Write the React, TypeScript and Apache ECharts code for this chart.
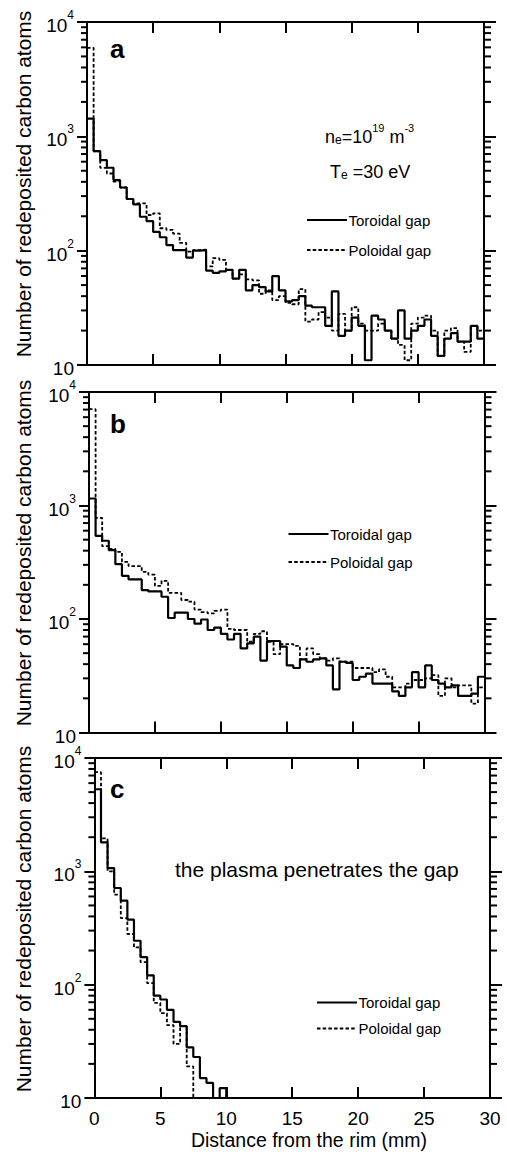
import React, { useEffect, useRef } from "react";
import * as echarts from "echarts";

const FONT = "'Liberation Sans', Arial, Helvetica, sans-serif";

// bin edges (mm) of the 0.5 mm histogram bins
const BIN_EDGES = [
  0, 0.5, 1, 1.5, 2, 2.5, 3, 3.5, 4, 4.5, 5, 5.5, 6, 6.5, 7, 7.5, 8, 8.5, 9, 9.5,
  10, 10.5, 11, 11.5, 12, 12.5, 13, 13.5, 14, 14.5, 15, 15.5, 16, 16.5, 17, 17.5, 18, 18.5, 19, 19.5,
  20, 20.5, 21, 21.5, 22, 22.5, 23, 23.5, 24, 24.5, 25, 25.5, 26, 26.5, 27, 27.5, 28, 28.5, 29, 29.5, 30,
];

const SERIES_NAMES = ["Toroidal gap", "Poloidal gap"];
const PANEL_LETTERS = ["a", "b", "c"];
const Y_TITLE = "Number of redeposited carbon atoms";
const X_TITLE = "Distance from the rim (mm)";
const NOTE_C = "the plasma penetrates the gap";

// panel a
const A_TOROIDAL = [
  1430, 743, 620, 531, 414, 357, 283, 254, 198, 181, 146, 131, 112, 101, 101, 87, 100, 101, 67, 64,
  66, 68, 57, 68, 45, 50, 48, 44, 60, 45, 36, 37, 40, 33, 32, 32, 22, 44, 18, 20,
  26, 22, 11, 27, 25, 20, 17, 30, 17, 20, 22, 25, 18, 12, 17, 19, 16, 16, 22, 17,
];
const A_POLOIDAL = [
  5940, 740, 530, 473, 401, 357, 283, 259, 259, 205, 212, 157, 152, 141, 117, 98, 101, 102, 73, 86,
  83, 68, 57, 62, 56, 55, 42, 45, 37, 40, 35, 34, 46, 24, 25, 29, 26, 20, 28, 20,
  32, 23, 20, 20, 23, 20, 17, 15, 11, 23, 26, 27, 20, 12, 20, 21, 16, 13, 22, 20,
];
// panel b
const B_TOROIDAL = [
  1153, 541, 489, 404, 304, 240, 223, 223, 180, 175, 175, 157, 102, 114, 114, 100, 91, 99, 80, 84,
  74, 66, 74, 55, 61, 70, 43, 64, 64, 57, 39, 37, 44, 42, 44, 45, 39, 24, 42, 41,
  29, 31, 33, 27, 27, 27, 23, 21, 25, 34, 25, 39, 29, 27, 25, 26, 21, 21, 22, 31,
];
const B_POLOIDAL = [
  7060, 778, 438, 415, 391, 319, 292, 292, 260, 246, 196, 217, 170, 170, 147, 142, 121, 115, 112, 118,
  121, 82, 80, 80, 63, 74, 78, 63, 49, 60, 60, 58, 44, 55, 49, 45, 43, 45, 42, 42,
  37, 37, 37, 34, 36, 31, 25, 25, 27, 29, 29, 30, 32, 21, 30, 25, 26, 26, 18, 25,
];
// panel c
const C_TOROIDAL = [
  5300, 1803, 1069, 713, 551, 375, 244, 175, 121, 80, 74, 60, 47, 43, 28, 23, 15, 13.6, 0, 12.2,
  0, 0, 0, 0, 0, 0, 0, 0, 0, 0, 0, 0, 0, 0, 0, 0, 0, 0, 0, 0,
  0, 0, 0, 0, 0, 0, 0, 0, 0, 0, 0, 0, 0, 0, 0, 0, 0, 0, 0, 0,
];
const C_POLOIDAL = [
  7500, 1950, 1000, 622, 387, 280, 213, 158, 103, 69, 56, 44, 30, 43, 19, 0, 0, 0, 0, 0,
  0, 0, 0, 0, 0, 0, 0, 0, 0, 0, 0, 0, 0, 0, 0, 0, 0, 0, 0, 0,
  0, 0, 0, 0, 0, 0, 0, 0, 0, 0, 0, 0, 0, 0, 0, 0, 0, 0, 0, 0,
];

const MINOR_TICKS = [
  20, 30, 40, 50, 60, 70, 80, 90, 200, 300, 400, 500, 600, 700, 800, 900,
  2000, 3000, 4000, 5000, 6000, 7000, 8000, 9000,
];

const PANEL_DATA = [
  [A_TOROIDAL, A_POLOIDAL],
  [B_TOROIDAL, B_POLOIDAL],
  [C_TOROIDAL, C_POLOIDAL],
];

const FLOOR = 1; // empty bins drawn below the axis minimum (clipped)

function stepData(values: number[]) {
  const d = values.map((v, i) => [BIN_EDGES[i], v > 0 ? v : FLOOR]);
  const last = values[values.length - 1];
  d.push([BIN_EDGES[values.length], last > 0 ? last : FLOOR]);
  return d;
}

export default function App() {
  const ref = useRef<HTMLDivElement>(null);

  useEffect(() => {
    if (!ref.current) return;
    const chart = echarts.init(ref.current, null, { renderer: "svg" });

    const grids = [
      { left: 87, top: 22, width: 397, height: 343 },
      { left: 89, top: 392, width: 395.5, height: 340.5 },
      { left: 94.4, top: 758, width: 395.6, height: 340 },
    ];
    const letterPos = [
      [110, 49],
      [110, 424],
      [110, 789],
    ];
    const yTitleY = [184, 553, 919];
    const legendPos = [
      { x1: 307, x2: 347, y1: 220, y2: 250 },
      { x1: 288.5, x2: 328.5, y1: 534, y2: 562 },
      { x1: 317, x2: 357, y1: 1002.5, y2: 1028.5 },
    ];

    const black = "#000";
    const axisLineStyle = { color: black, width: 2 };
    const xAxes: any[] = [];
    const yAxes: any[] = [];
    const series: any[] = [];
    const elements: any[] = [];

    const yRich = {
      b: { fontSize: 19, lineHeight: 26, verticalAlign: "bottom", fontFamily: FONT, color: black },
      s: { fontSize: 12, lineHeight: 12, verticalAlign: "top", fontFamily: FONT, color: black },
    };
    const yFormatter = (v: number) => {
      const e = Math.round(Math.log10(v));
      return e === 1 ? "{b|10}" : "{b|10}{s|" + e + "}";
    };

    grids.forEach((g, i) => {
      (g as any).outerBoundsMode = "none";
      const base = {
        type: "value",
        gridIndex: i,
        min: 0,
        max: 30,
        interval: 5,
        axisLine: { show: true, onZero: false, lineStyle: axisLineStyle },
        axisTick: { show: true, inside: true, length: 11, lineStyle: axisLineStyle },
        splitLine: { show: false },
      };
      xAxes.push({
        ...base,
        position: "bottom",
        axisLabel: { show: i === 2, color: black, fontSize: 19, margin: 11, fontFamily: FONT },
      });
      xAxes.push({ ...base, position: "top", axisLabel: { show: false } });

      const ybase = {
        type: "log",
        logBase: 10,
        gridIndex: i,
        min: 10,
        max: 10000,
        axisLine: { show: true, onZero: false, lineStyle: axisLineStyle },
        splitLine: { show: false },
        minorTick: { show: false },
      };
      yAxes.push({
        ...ybase,
        position: "left",
        axisTick: { show: true, inside: false, length: 10, lineStyle: axisLineStyle },
        axisLabel: { show: true, margin: 13, formatter: yFormatter, rich: yRich },
      });
      yAxes.push({
        ...ybase,
        position: "right",
        axisTick: { show: true, inside: false, length: 12, lineStyle: axisLineStyle },
        axisLabel: { show: false },
      });

      const [tor, pol] = PANEL_DATA[i];
      series.push({
        type: "line",
        name: SERIES_NAMES[1],
        xAxisIndex: 2 * i,
        yAxisIndex: 2 * i,
        data: stepData(pol),
        step: "end",
        symbol: "none",
        showSymbol: false,
        clip: true,
        silent: true,
        z: 2,
        lineStyle: { color: black, width: 1.8, type: [3.5, 2.2] },
      });
      series.push({
        type: "line",
        name: SERIES_NAMES[0],
        xAxisIndex: 2 * i,
        yAxisIndex: 2 * i,
        data: stepData(tor),
        step: "end",
        symbol: "none",
        showSymbol: false,
        clip: true,
        silent: true,
        z: 3,
        lineStyle: { color: black, width: 2.2, type: "solid" },
      });
      series.push({
        type: "custom",
        xAxisIndex: 2 * i,
        yAxisIndex: 2 * i,
        coordinateSystem: "cartesian2d",
        silent: true,
        clip: false,
        data: MINOR_TICKS.map((v) => [0, v]),
        renderItem: (params: any, api: any) => {
          const y = api.coord([0, api.value(1)])[1];
          const cs = params.coordSys;
          return {
            type: "group",
            children: [
              {
                type: "line",
                shape: { x1: cs.x - 6, y1: y, x2: cs.x, y2: y },
                style: { stroke: black, lineWidth: 2 },
              },
              {
                type: "line",
                shape: { x1: cs.x + cs.width, y1: y, x2: cs.x + cs.width + 7, y2: y },
                style: { stroke: black, lineWidth: 2 },
              },
            ],
          };
        },
      });

      // y axis title
      elements.push({
        type: "text",
        x: 23.5,
        y: yTitleY[i],
        rotation: Math.PI / 2,
        style: {
          text: Y_TITLE,
          fontSize: 21,
          fontFamily: FONT,
          fill: black,
          align: "center",
          verticalAlign: "middle",
          textAlign: "center",
          textVerticalAlign: "middle",
        },
      });
      // panel letter
      elements.push({
        type: "text",
        x: letterPos[i][0],
        y: letterPos[i][1],
        style: {
          text: PANEL_LETTERS[i],
          fontSize: 26,
          fontWeight: "bold",
          fontFamily: FONT,
          fill: black,
          align: "left",
          verticalAlign: "middle",
          textAlign: "left",
          textVerticalAlign: "middle",
        },
      });
      // legend
      const lp = legendPos[i];
      elements.push({
        type: "line",
        shape: { x1: lp.x1, y1: lp.y1, x2: lp.x2, y2: lp.y1 },
        style: { stroke: black, lineWidth: 2.2 },
      });
      elements.push({
        type: "line",
        shape: { x1: lp.x1, y1: lp.y2, x2: lp.x2, y2: lp.y2 },
        style: { stroke: black, lineWidth: 1.8, lineDash: [3.5, 2.2] },
      });
      SERIES_NAMES.forEach((name, k) => {
        elements.push({
          type: "text",
          x: lp.x2 + 1.5,
          y: k === 0 ? lp.y1 : lp.y2,
          style: {
            text: name,
            fontSize: 15,
            fontFamily: FONT,
            fill: black,
            align: "left",
            verticalAlign: "middle",
            textAlign: "left",
            textVerticalAlign: "middle",
          },
        });
      });
    });

    const noteRich = {
      b: { fontSize: 18, lineHeight: 24, verticalAlign: "bottom", fontFamily: FONT, color: black },
      sup: { fontSize: 11, lineHeight: 18, verticalAlign: "top", fontFamily: FONT, color: black },
      sub: { fontSize: 12, lineHeight: 14, verticalAlign: "bottom", fontFamily: FONT, color: black },
    };
    elements.push({
      type: "text",
      x: 325,
      y: 134,
      style: {
        text: "{b|n}{sub|e}{b|=10}{sup|19}{b| m}{sup|-3}",
        rich: noteRich,
        fill: black,
        align: "left",
        verticalAlign: "middle",
        textAlign: "left",
        textVerticalAlign: "middle",
      },
    });
    elements.push({
      type: "text",
      x: 330,
      y: 169,
      style: {
        text: "{b|T}{sub|e}{b| =30 eV}",
        rich: noteRich,
        fill: black,
        align: "left",
        verticalAlign: "middle",
        textAlign: "left",
        textVerticalAlign: "middle",
      },
    });
    elements.push({
      type: "text",
      x: 175,
      y: 869,
      style: {
        text: NOTE_C,
        fontSize: 21,
        fontFamily: FONT,
        fill: black,
        align: "left",
        verticalAlign: "middle",
        textAlign: "left",
        textVerticalAlign: "middle",
      },
    });
    elements.push({
      type: "text",
      x: 309,
      y: 1140,
      style: {
        text: X_TITLE,
        fontSize: 19.5,
        fontFamily: FONT,
        fill: black,
        align: "center",
        verticalAlign: "middle",
        textAlign: "center",
        textVerticalAlign: "middle",
      },
    });

    chart.setOption({
      animation: false,
      backgroundColor: "#fff",
      textStyle: { fontFamily: FONT },
      grid: grids,
      xAxis: xAxes,
      yAxis: yAxes,
      series,
      graphic: { elements },
    });

    return () => chart.dispose();
  }, []);

  return (
    <div
      ref={ref}
      style={{ position: "absolute", left: 0, top: 0, width: 507, height: 1154, background: "#fff" }}
    />
  );
}
